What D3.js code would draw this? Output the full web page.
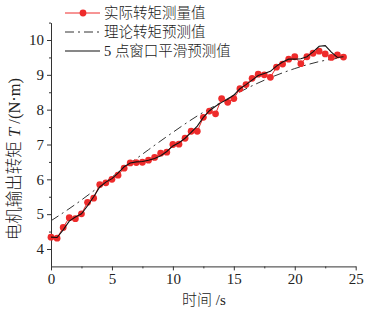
<!DOCTYPE html>
<html>
<head>
<meta charset="utf-8">
<script src="https://cdn.jsdelivr.net/npm/d3@7"></script>
<style>
  body { margin: 0; background: #fff; }
  text { font-family: "Liberation Serif", "Noto Sans CJK SC", serif; }
  .cjk { font-weight: 300; }
</style>
</head>
<body>
<div id="chart"></div>
<script>
// measured torque, every 0.5 s
var times = [0,0.5,1,1.5,2,2.5,3,3.5,4,4.5,5,5.5,6,6.5,7,7.5,8,8.5,9,9.5,10,10.5,11,11.5,12,
             12.5,13,13.5,14,14.5,15,15.5,16,16.5,17,17.5,18,18.5,19,19.5,20,20.5,21,21.5,22,22.5,23,23.5,24];
var measured = [4.34,4.31,4.62,4.90,4.87,5.01,5.34,5.46,5.85,5.90,6.00,6.12,6.32,6.47,6.48,6.49,6.55,6.63,6.75,6.78,7.00,7.01,7.18,7.38,7.38,
                7.78,7.96,7.88,8.32,8.21,8.32,8.60,8.72,8.90,9.02,9.00,8.93,9.22,9.31,9.45,9.52,9.32,9.52,9.62,9.68,9.60,9.50,9.57,9.51];
// 5-point window smoothed prediction
var smoothed = [4.34,4.33,4.55,4.80,4.92,5.01,5.24,5.50,5.78,5.92,6.02,6.18,6.36,6.47,6.50,6.51,6.55,6.60,6.68,6.80,6.96,7.05,7.18,7.35,7.53,
                7.78,7.97,8.10,8.21,8.30,8.42,8.60,8.72,8.85,8.98,9.04,9.10,9.25,9.37,9.45,9.45,9.46,9.52,9.66,9.82,9.84,9.65,9.50,9.52];
// theoretical prediction
var theoryT = [0,2,4,6,8,10,12,14,16,18,20,22,24];
var theoryV = [4.81,5.28,5.80,6.33,6.85,7.35,7.82,8.22,8.60,8.92,9.18,9.38,9.50];

var xTicks = [0,5,10,15,20,25];
var yTicks = [4,5,6,7,8,9,10];
var legendLabels = ["实际转矩测量值", "理论转矩预测值", "5 点窗口平滑预测值"];

var W = 387, H = 312;
var svg = d3.select("#chart").append("svg")
    .attr("width", W).attr("height", H);

var x = d3.scaleLinear().domain([0, 25]).range([51, 355.7]);
var y = d3.scaleLinear().domain([3.5, 10.5]).range([266.4, 22.6]);

var red = "#ee2b2b";

// axes
svg.append("g")
    .attr("transform", "translate(0," + y(3.5) + ")")
    .call(d3.axisBottom(x).tickValues(xTicks).tickFormat(d3.format("d"))
        .tickSize(4).tickSizeOuter(0).tickPadding(3));
svg.append("g")
    .attr("transform", "translate(0," + y(3.5) + ")")
    .call(d3.axisBottom(x).tickValues(d3.range(2.5, 25, 5)).tickSize(2).tickFormat(""))
    .select(".domain").remove();

svg.append("g")
    .attr("transform", "translate(" + x(0) + ",0)")
    .call(d3.axisLeft(y).tickValues(yTicks).tickFormat(d3.format("d"))
        .tickSize(4).tickSizeOuter(0).tickPadding(3));
svg.append("g")
    .attr("transform", "translate(" + x(0) + ",0)")
    .call(d3.axisLeft(y).tickValues(d3.range(4.5, 10.6, 1)).tickSize(2).tickFormat(""))
    .select(".domain").remove();

svg.selectAll(".tick text")
    .style("font-size", "15px")
    .attr("fill", "#222");
svg.selectAll(".domain, .tick line").attr("stroke", "#333");

// axis titles
svg.append("text")
    .attr("class", "cjk")
    .attr("x", 204).attr("y", 305)
    .attr("text-anchor", "middle")
    .style("font-size", "15px")
    .attr("fill", "#222")
    .text("时间 /s");

var yl = svg.append("text")
    .attr("class", "cjk")
    .attr("transform", "translate(20,159) rotate(-90)")
    .attr("text-anchor", "middle")
    .style("font-size", "16.5px")
    .attr("fill", "#222");
yl.append("tspan").text("电机输出转矩 ");
yl.append("tspan").style("font-style", "italic").text("T");
yl.append("tspan").text(" /(N·m)");

// theory line
var theoryLine = d3.line()
    .x((d, i) => x(theoryT[i]))
    .y(d => y(d))
    .curve(d3.curveMonotoneX);

svg.append("path")
    .datum(theoryV)
    .attr("fill", "none")
    .attr("stroke", "#333")
    .attr("stroke-width", 1)
    .attr("stroke-dasharray", "9,4,2,4")
    .attr("d", theoryLine);

// measured line + points
var lineT = d3.line()
    .x((d, i) => x(times[i]))
    .y(d => y(d));

svg.append("path")
    .datum(measured)
    .attr("fill", "none")
    .attr("stroke", red)
    .attr("stroke-width", 1)
    .attr("d", lineT);

svg.selectAll(".pt")
    .data(measured)
    .enter()
    .append("circle")
    .attr("class", "pt")
    .attr("cx", (d, i) => x(times[i]))
    .attr("cy", d => y(d))
    .attr("r", 3.4)
    .attr("fill", red);

// smoothed line
svg.append("path")
    .datum(smoothed)
    .attr("fill", "none")
    .attr("stroke", "#111")
    .attr("stroke-width", 1.1)
    .attr("d", lineT);

// legend
var legend = svg.append("g");
var rows = [13, 32, 51];
legendLabels.forEach(function (lab, i) {
    var g = legend.append("g").attr("transform", "translate(0," + rows[i] + ")");
    var ln = g.append("line")
        .attr("x1", 65).attr("x2", 100)
        .attr("y1", 0).attr("y2", 0);
    if (i === 0) {
        ln.attr("stroke", red).attr("stroke-width", 1);
        g.append("circle").attr("cx", 83).attr("cy", 0).attr("r", 3.4).attr("fill", red);
    } else if (i === 1) {
        ln.attr("stroke", "#333").attr("stroke-dasharray", "9,4,2,4");
    } else {
        ln.attr("stroke", "#111").attr("stroke-width", 1.1);
    }
    g.append("text")
        .attr("class", "cjk")
        .attr("x", 104).attr("y", 5)
        .style("font-size", "14.5px")
        .attr("fill", "#222")
        .text(lab);
});
</script>
</body>
</html>
